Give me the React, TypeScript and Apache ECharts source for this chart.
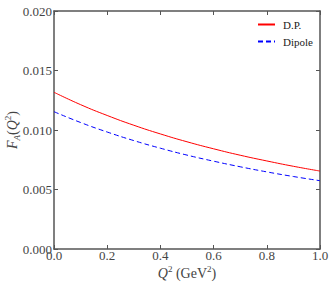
import React, { useEffect, useRef } from "react";
import * as echarts from "echarts";

const q2Values = [0.0, 0.1, 0.2, 0.3, 0.4, 0.5, 0.6, 0.7, 0.8, 0.9, 1.0];
const dpValues = [0.01317, 0.01213, 0.01122, 0.0104, 0.00967, 0.00901, 0.00842, 0.00788, 0.0074, 0.00695, 0.00655];
const dipoleValues = [0.01154, 0.01063, 0.00983, 0.00911, 0.00847, 0.00789, 0.00738, 0.00691, 0.00648, 0.00609, 0.00574];
const seriesNames = ["D.P.", "Dipole"];

const FONT = "'Liberation Serif', 'DejaVu Serif', serif";
const AXIS_COLOR = "#555";
const TEXT_COLOR = "#444";

export default function App() {
  const ref = useRef<HTMLDivElement>(null);
  useEffect(() => {
    if (!ref.current) return;
    const chart = echarts.init(ref.current, undefined, { renderer: "svg" });
    const axisCommon = {
      type: "value" as const,
      axisLine: { show: true, onZero: false, lineStyle: { color: AXIS_COLOR, width: 1.5 } },
      axisTick: { show: true, inside: true, length: 4, lineStyle: { color: AXIS_COLOR, width: 1 } },
      splitLine: { show: false },
    };
    chart.setOption({
      animation: false,
      backgroundColor: "#fff",
      grid: { left: 54, right: 13, top: 11, bottom: 39, containLabel: false, outerBoundsMode: "none" },
      legend: {
        orient: "vertical",
        left: 257,
        top: 19,
        itemWidth: 17,
        itemHeight: 8,
        itemGap: 6,
        padding: 0,
        itemStyle: { opacity: 0, borderWidth: 0 },
        textStyle: { fontFamily: FONT, fontSize: 11, color: "#222", padding: [0, 0, 0, 3] },
        data: seriesNames,
      },
      xAxis: [
        {
          ...axisCommon,
          position: "bottom",
          min: 0,
          max: 1,
          interval: 0.2,
          axisLabel: {
            fontFamily: FONT,
            fontSize: 13,
            color: TEXT_COLOR,
            margin: 0,
            formatter: (v: number) => v.toFixed(1),
          },
          name: "{i|Q}{sup|2}{n| (GeV}{sup|2}{n|)}",
          nameLocation: "middle",
          nameGap: 15,
          nameMoveOverlap: false,
          nameTextStyle: {
            rich: {
              i: { fontFamily: FONT, fontStyle: "italic", fontSize: 14, color: TEXT_COLOR, lineHeight: 16, verticalAlign: "bottom" },
              n: { fontFamily: FONT, fontSize: 14, color: TEXT_COLOR, lineHeight: 16, verticalAlign: "bottom" },
              sup: { fontFamily: FONT, fontSize: 9, color: TEXT_COLOR, lineHeight: 10, verticalAlign: "top" },
            },
          },
        },
        {
          ...axisCommon,
          position: "top",
          min: 0,
          max: 1,
          interval: 0.2,
          axisLabel: { show: false },
        },
      ],
      yAxis: [
        {
          ...axisCommon,
          position: "left",
          min: 0,
          max: 0.02,
          interval: 0.005,
          axisLabel: {
            fontFamily: FONT,
            fontSize: 13,
            color: TEXT_COLOR,
            margin: 2,
            formatter: (v: number) => v.toFixed(3),
          },
          name: "{i|F}{sub|A}{n|(}{i|Q}{sup|2}{n|)}",
          nameLocation: "middle",
          nameGap: 42,
          nameRotate: 90,
          nameMoveOverlap: false,
          nameTextStyle: {
            align: "center",
            verticalAlign: "middle",
            rich: {
              i: { fontFamily: FONT, fontStyle: "italic", fontSize: 14, color: TEXT_COLOR, lineHeight: 18, verticalAlign: "middle" },
              n: { fontFamily: FONT, fontSize: 14, color: TEXT_COLOR, lineHeight: 18, verticalAlign: "middle" },
              sub: { fontFamily: FONT, fontStyle: "italic", fontSize: 9, color: TEXT_COLOR, lineHeight: 10, verticalAlign: "bottom" },
              sup: { fontFamily: FONT, fontSize: 9, color: TEXT_COLOR, lineHeight: 10, verticalAlign: "top" },
            },
          },
        },
        {
          ...axisCommon,
          position: "right",
          min: 0,
          max: 0.02,
          interval: 0.005,
          axisLabel: { show: false },
        },
      ],
      series: [
        {
          name: seriesNames[0],
          type: "line",
          xAxisIndex: 0,
          yAxisIndex: 0,
          smooth: true,
          symbol: "none",
          data: q2Values.map((x, i) => [x, dpValues[i]]),
          lineStyle: { color: "#ff0000", width: 1 },
          itemStyle: { color: "#ff0000" },
        },
        {
          name: seriesNames[1],
          type: "line",
          xAxisIndex: 0,
          yAxisIndex: 0,
          smooth: true,
          symbol: "none",
          data: q2Values.map((x, i) => [x, dipoleValues[i]]),
          lineStyle: { color: "#0000ff", width: 1, type: [5, 3] },
          itemStyle: { color: "#0000ff" },
        },
      ],
    });
    return () => chart.dispose();
  }, []);
  return (
    <div
      ref={ref}
      style={{ position: "fixed", left: 0, top: 0, width: 333, height: 288 }}
    />
  );
}
